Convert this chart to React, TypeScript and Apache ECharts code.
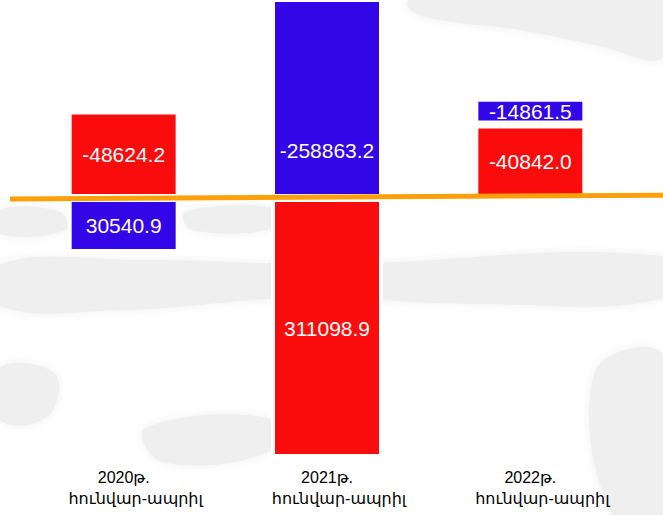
import React, { useEffect, useRef } from 'react';
import * as echarts from 'echarts';

// ---- data ----
const categories = ['2020թ.', '2021թ.', '2022թ.'];
const periodLabel = 'հունվար-ապրիլ';
const redValues = [-48624.2, 311098.9, -40842.0];
const blueValues = [30540.9, -258863.2, -14861.5];

const RED = '#FA0C0C';
const BLUE = '#3306E8';
const ORANGE = '#FFA00A';
const SMUDGE = '#efefef';

export default function App() {
  const ref = useRef<HTMLDivElement>(null);

  useEffect(() => {
    if (!ref.current) return;
    const chart = echarts.init(ref.current, undefined, { renderer: 'svg' });

    const labelBase = {
      show: true,
      position: 'inside',
      color: '#ffffff',
      fontSize: 21,
      fontFamily: "'Liberation Sans', Arial, sans-serif",
      formatter: (p: any) => Number(p.value).toFixed(1),
    };

    const option: any = {
      animation: false,
      backgroundColor: '#ffffff',
      grid: { left: 22, right: 31, top: -2, bottom: 57, containLabel: false, outerBoundsMode: 'none' },
      xAxis: {
        type: 'category',
        position: 'bottom',
        data: categories,
        axisLine: { show: false, onZero: false },
        axisTick: { show: false },
        splitLine: { show: false },
        axisLabel: {
          margin: 9,
          interval: 0,
          formatter: (v: string) => '{a|' + v + '}\n{b|' + periodLabel + '}',
          rich: {
            a: {
              color: '#000000',
              fontSize: 16,
              lineHeight: 21,
              fontFamily: "'Liberation Sans', 'DejaVu Sans', sans-serif",
            },
            b: {
              color: '#000000',
              fontSize: 16,
              lineHeight: 21,
              padding: [0, 0, 0, 24],
              fontFamily: "'Liberation Sans', 'DejaVu Sans', sans-serif",
            },
          },
        },
      },
      yAxis: {
        type: 'value',
        inverse: true,
        min: 'dataMin',
        max: 'dataMax',
        axisLine: { show: false },
        axisTick: { show: false },
        axisLabel: { show: false },
        splitLine: { show: false },
        breaks: [
          { start: -250000, end: -60000, gap: 42250 },
          { start: 35000, end: 300000, gap: 98344 },
        ],
        breakArea: { show: false },
      },
      series: [
        {
          name: 'red',
          type: 'bar',
          stack: 'total',
          barWidth: 112,
          itemStyle: { color: RED, borderColor: '#ffffff', borderWidth: 4 },
          label: labelBase,
          data: redValues,
        },
        {
          name: 'blue',
          type: 'bar',
          stack: 'total',
          barWidth: 112,
          itemStyle: { color: BLUE, borderColor: '#ffffff', borderWidth: 4 },
          label: labelBase,
          data: blueValues.map((v, i) => (i === 1 ? { value: v, label: { offset: [0, 52] } } : v)),
        },
      ],
    };

    chart.setOption(option);

    const z = chart.convertToPixel({ yAxisIndex: 0 }, 0) as number;
    const smudge = (points: number[][]) => ({
      type: 'polygon',
      z: 0,
      silent: true,
      shape: { points, smooth: 0.4 },
      style: { fill: SMUDGE, shadowBlur: 10, shadowColor: SMUDGE },
    });
    chart.setOption({
      graphic: [
        smudge([[0, 264], [140, 260], [330, 264], [663, 256], [663, 298], [480, 304], [300, 298], [120, 310], [0, 306]]),
        smudge([[410, 0], [663, 0], [663, 58], [600, 46], [520, 30], [440, 20], [410, 10]]),
        smudge([[0, 210], [60, 212], [66, 230], [0, 234]]),
        smudge([[185, 212], [275, 208], [275, 228], [192, 230]]),
        smudge([[595, 372], [663, 355], [663, 515], [612, 515]]),
        smudge([[0, 368], [55, 374], [48, 416], [0, 420]]),
        smudge([[145, 428], [268, 418], [268, 452], [162, 462]]),
        {
          type: 'line',
          z: 100,
          shape: { x1: 10, y1: z + 1, x2: 663, y2: z - 2.8 },
          style: { stroke: ORANGE, lineWidth: 5 },
        },
      ],
    });

    return () => chart.dispose();
  }, []);

  return (
    <div
      ref={ref}
      style={{ position: 'absolute', left: 0, top: 0, width: 663, height: 515 }}
    />
  );
}
